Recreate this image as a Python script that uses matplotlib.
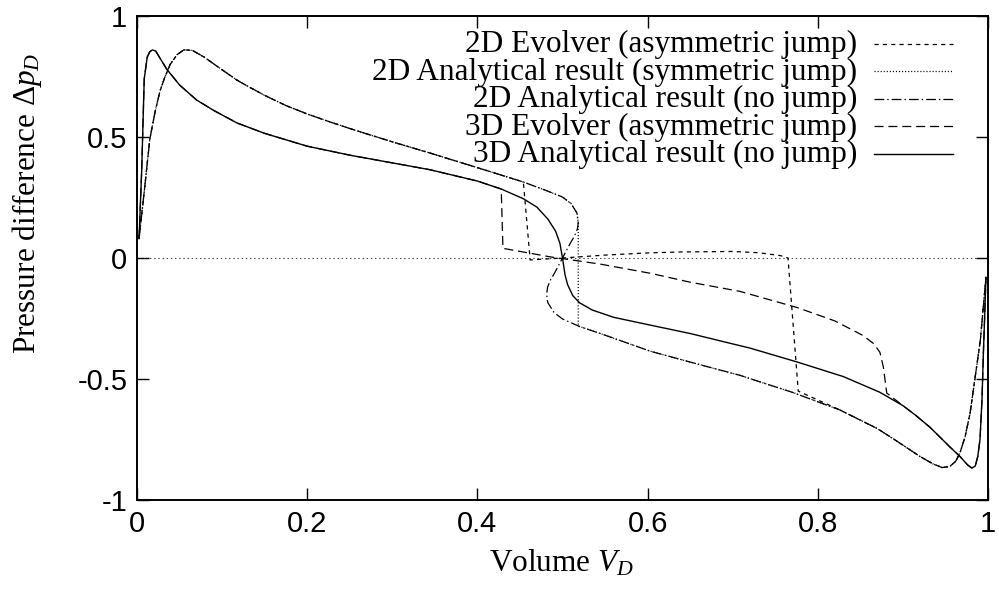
import matplotlib
matplotlib.use("Agg")
import matplotlib.pyplot as plt
from matplotlib.lines import Line2D

plt.rcParams["lines.scale_dashes"] = False
plt.rcParams["mathtext.fontset"] = "custom"
plt.rcParams["mathtext.rm"] = "Liberation Serif"
plt.rcParams["mathtext.it"] = "Liberation Serif:italic"

# --- 3D analytical result (no jump) ---
ana3d_x = [0.0024, 0.0055, 0.0085, 0.012, 0.015, 0.018, 0.022, 0.028, 0.035, 0.05,
           0.07, 0.09, 0.1175, 0.15, 0.2, 0.25, 0.3, 0.344, 0.4, 0.428, 0.454,
           0.47, 0.483, 0.492, 0.497, 0.5, 0.503, 0.506, 0.512, 0.52, 0.535,
           0.56, 0.6, 0.65, 0.7, 0.72, 0.776, 0.83, 0.873, 0.9, 0.915, 0.932,
           0.955, 0.967, 0.976, 0.981, 0.985, 0.988, 0.9906, 0.993, 0.9945, 0.996,
           0.9976]
ana3d_y = [0.08, 0.36, 0.74, 0.83, 0.852, 0.86, 0.855, 0.82, 0.78, 0.715,
           0.653, 0.61, 0.558, 0.515, 0.462, 0.425, 0.393, 0.365, 0.318, 0.285, 0.245,
           0.21, 0.16, 0.11, 0.06, 0.0, -0.07, -0.11, -0.155, -0.185, -0.215,
           -0.245, -0.275, -0.312, -0.355, -0.372, -0.43, -0.49, -0.555, -0.61, -0.65, -0.70,
           -0.78, -0.82, -0.855, -0.868, -0.86, -0.82, -0.75, -0.58, -0.4, -0.25,
           -0.08]

# --- 2D analytical result, three pieces of the S-shaped curve ---
ana2d_up_x = [0.0024, 0.009, 0.015, 0.021, 0.027, 0.033, 0.039, 0.047, 0.055, 0.065,
              0.079, 0.095, 0.1175, 0.13, 0.15, 0.175, 0.2, 0.227, 0.25, 0.3, 0.344,
              0.403, 0.454, 0.48, 0.5, 0.51, 0.517, 0.5185]
ana2d_up_y = [0.08, 0.29, 0.49, 0.60, 0.69, 0.75, 0.80, 0.84, 0.86, 0.858,
              0.83, 0.79, 0.735, 0.71, 0.672, 0.63, 0.595, 0.562, 0.535, 0.48, 0.434,
              0.37, 0.314, 0.28, 0.252, 0.225, 0.186, 0.145]
ana2d_fold_x = [0.5175, 0.514, 0.509, 0.5, 0.491, 0.486, 0.4825, 0.4815]
ana2d_fold_y = [0.12, 0.09, 0.06, 0.0, -0.06, -0.09, -0.12, -0.145]
ana2d_low_x = [0.4818, 0.483, 0.49, 0.5, 0.52, 0.546, 0.603, 0.65, 0.7086, 0.77,
               0.826, 0.87, 0.89, 0.905, 0.92, 0.935, 0.946, 0.955, 0.962, 0.967,
               0.973, 0.979, 0.985, 0.991, 0.9976]
ana2d_low_y = [-0.17, -0.186, -0.225, -0.252, -0.283, -0.314, -0.385, -0.43, -0.485, -0.555,
               -0.628, -0.705, -0.75, -0.785, -0.82, -0.85, -0.866, -0.862, -0.84, -0.806,
               -0.74, -0.64, -0.49, -0.34, -0.08]

# symmetric jump position and lower value
sym_jump_x = 0.5185
sym_jump_y = -0.283

# --- 2D Evolver: leaves the analytical curve at the jumps ---
ev2d_left_end = 0.454
ev2d_mid_x = [0.462, 0.48, 0.5, 0.55, 0.6, 0.64, 0.7, 0.73, 0.756, 0.765, 0.777]
ev2d_mid_y = [-0.008, -0.004, 0.0, 0.012, 0.021, 0.025, 0.027, 0.022, 0.01, 0.0, -0.55]

# --- 3D Evolver ---
ev3d_left_end = 0.428
ev3d_mid_x = [0.43, 0.485, 0.544, 0.603, 0.65, 0.7086, 0.776, 0.82, 0.853, 0.866,
              0.873, 0.877, 0.881]
ev3d_mid_y = [0.04, 0.005, -0.025, -0.063, -0.1, -0.138, -0.205, -0.26, -0.32, -0.355,
              -0.39, -0.45, -0.558]

labels = ["2D Evolver (asymmetric jump)",
          "2D Analytical result (symmetric jump)",
          "2D Analytical result (no jump)",
          "3D Evolver (asymmetric jump)",
          "3D Analytical result (no jump)"]

xticks = [0, 0.2, 0.4, 0.6, 0.8, 1]
xticklabels = ["0", "0.2", "0.4", "0.6", "0.8", "1"]
yticks = [-1, -0.5, 0, 0.5, 1]
yticklabels = ["-1", "-0.5", "0", "0.5", "1"]

# assemble the series
nojump_x = ana2d_up_x + ana2d_fold_x + ana2d_low_x
nojump_y = ana2d_up_y + ana2d_fold_y + ana2d_low_y

sym_x = ana2d_up_x + [sym_jump_x] + [x for x in ana2d_low_x if x > sym_jump_x]
sym_y = ana2d_up_y + [sym_jump_y] + [y for x, y in zip(ana2d_low_x, ana2d_low_y) if x > sym_jump_x]

ev2d_x = [x for x in ana2d_up_x if x <= ev2d_left_end] + ev2d_mid_x \
    + [x for x in ana2d_low_x if x > ev2d_mid_x[-1]]
ev2d_y = [y for x, y in zip(ana2d_up_x, ana2d_up_y) if x <= ev2d_left_end] + ev2d_mid_y \
    + [y for x, y in zip(ana2d_low_x, ana2d_low_y) if x > ev2d_mid_x[-1]]

ev3d_x = [x for x in ana3d_x if x <= ev3d_left_end] + ev3d_mid_x \
    + [x for x in ana3d_x if x > ev3d_mid_x[-1]]
ev3d_y = [y for x, y in zip(ana3d_x, ana3d_y) if x <= ev3d_left_end] + ev3d_mid_y \
    + [y for x, y in zip(ana3d_x, ana3d_y) if x > ev3d_mid_x[-1]]

styles = [
    dict(ls=(0, (3.0, 3.0)), lw=0.9),
    dict(ls=(0, (0.8, 1.4)), lw=0.9),
    dict(ls=(0, (7.0, 2.2, 1.0, 2.2)), lw=0.9),
    dict(ls=(0, (6.5, 3.5)), lw=0.9),
    dict(ls="-", lw=1.0),
]
series = [(ev2d_x, ev2d_y), (sym_x, sym_y), (nojump_x, nojump_y),
          (ev3d_x, ev3d_y), (ana3d_x, ana3d_y)]

W, H = 999, 590
fig = plt.figure(figsize=(W / 100, H / 100), dpi=100)
ax = fig.add_axes([137 / W, 1 - 500 / H, (988 - 137) / W, (500 - 16) / H])

# gnuplot style zero axis
ax.axhline(0, color="#444444", lw=0.8, ls=(0, (1.0, 2.0)), zorder=1)

for (xs, ys), st in zip(series, styles):
    ax.plot(xs, ys, color="black", zorder=2, solid_joinstyle="round", **st)

ax.set_xlim(0, 1)
ax.set_ylim(-1, 1)
ax.set_xticks(xticks)
ax.set_xticklabels(xticklabels)
ax.set_yticks(yticks)
ax.set_yticklabels(yticklabels)
ax.tick_params(direction="in", length=8.5, width=1.0, top=True, right=True,
               labelsize=21, pad=7)
for lab in ax.get_xticklabels() + ax.get_yticklabels():
    lab.set_family("Liberation Sans")
for sp in ax.spines.values():
    sp.set_linewidth(1.4)

serif = "Liberation Serif"
fig.text(562 / W, 1 - 571 / H, r"Volume $V_D$", ha="center", va="baseline",
         fontsize=22.5, family=serif)
fig.text(27 / W, 1 - 203 / H, r"Pressure difference $\Delta p_D$", ha="center",
         va="center", rotation=90, fontsize=22.5, family=serif)

# hand-placed key, right-aligned text like gnuplot
base0, step = 52, 27.6
for i, (lab, st) in enumerate(zip(labels, styles)):
    yb = base0 + i * step
    fig.text(857 / W, 1 - yb / H, lab, ha="right", va="baseline",
             fontsize=22.5, family=serif)
    yl = 1 - (yb - 8.5) / H
    fig.add_artist(Line2D([874 / W, 953 / W], [yl, yl], color="black", **st))

fig.savefig("out.png", dpi=100)
